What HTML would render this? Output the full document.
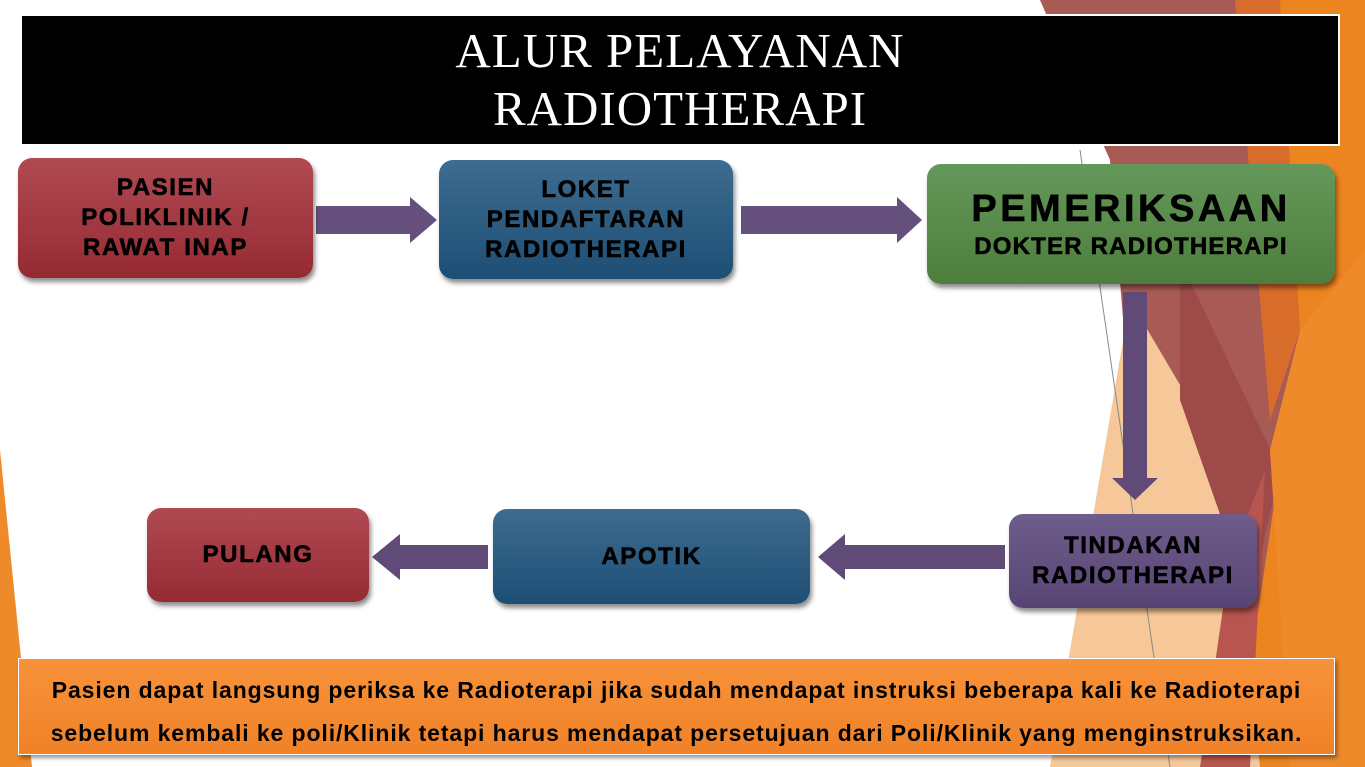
<!DOCTYPE html>
<html><head><meta charset="utf-8"><style>
body{margin:0;width:1365px;height:767px;overflow:hidden;position:relative;background:#fff;font-family:"Liberation Sans",Arial,sans-serif}
.b{position:absolute;border-radius:14px;display:flex;align-items:center;justify-content:center;text-align:center;font-weight:bold;color:#000;box-shadow:2px 4px 5px rgba(0,0,0,.45);font-size:24px;line-height:30px;letter-spacing:1.6px;-webkit-text-stroke:0.6px #000}
.red{background:linear-gradient(#b04a52,#962a33)}
.blue{background:linear-gradient(#3e6c90,#1d4e74)}
.green{background:linear-gradient(#64985a,#4e7e3d)}
.pur{background:linear-gradient(#6e5d8c,#574474)}
</style></head><body>
<svg width="1365" height="767" style="position:absolute;left:0;top:0">
<polygon points="1230,0 1365,0 1365,767 1170,767" fill="#ec8420"/>
<polygon points="1040,0 1235,0 1300,330 1235,767 1160,767 1110,160" fill="#a85a55"/>
<polygon points="1235,0 1280,0 1300,330 1270,420" fill="#d86c2a"/>
<polygon points="1130,300 1230,470 1260,767 1050,767" fill="#f6c899"/>
<polygon points="1180,260 1280,470 1250,600 1180,400" fill="#9d4a48"/>
<polygon points="1230,560 1265,470 1250,767 1200,767" fill="#b8554e"/>
<polygon points="1300,330 1365,250 1365,767 1290,767 1270,450" fill="#ee8a2a"/>
<polygon points="0,450 32,767 0,767" fill="#ee8a2a"/>
<line x1="1080" y1="150" x2="1170" y2="767" stroke="#888" stroke-width="1"/>
<polygon points="316,206 410,206 410,197 437,220 410,243 410,234 316,234" fill="#644f7d"/>
<polygon points="741,206 897,206 897,197 922,220 897,243 897,234 741,234" fill="#644f7d"/>
<polygon points="1123,292 1147,292 1147,478 1158,478 1135,500 1112,478 1123,478" fill="#604a78"/>
<polygon points="1005,545 845,545 845,534 818,557 845,580 845,569 1005,569" fill="#604a78"/>
<polygon points="488,545 400,545 400,534 372,557 400,580 400,569 488,569" fill="#604a78"/>
</svg>
<div style="position:absolute;left:20px;top:14px;width:1316px;background:#000;border:2px solid #fff;color:#fff;font-family:'Liberation Serif',serif;font-size:49px;letter-spacing:1px;line-height:58px;text-align:center;padding-top:6px;height:122px">ALUR PELAYANAN<br>RADIOTHERAPI</div>
<div class="b red" style="left:18px;top:158px;width:295px;height:120px">PASIEN<br>POLIKLINIK /<br>RAWAT INAP</div>
<div class="b blue" style="left:439px;top:160px;width:294px;height:119px">LOKET<br>PENDAFTARAN<br>RADIOTHERAPI</div>
<div class="b green" style="left:927px;top:164px;width:408px;height:120px;flex-direction:column"><span style="font-size:38px;line-height:46px;letter-spacing:3.5px">PEMERIKSAAN</span><span style="font-size:24px;letter-spacing:1.2px">DOKTER RADIOTHERAPI</span></div>
<div class="b pur" style="left:1009px;top:514px;width:248px;height:94px">TINDAKAN<br>RADIOTHERAPI</div>
<div class="b blue" style="left:493px;top:509px;width:317px;height:95px">APOTIK</div>
<div class="b red" style="left:147px;top:508px;width:222px;height:94px">PULANG</div>
<div style="position:absolute;left:18px;top:658px;width:1317px;height:97px;background:linear-gradient(#f7923a,#f08228);border:1px solid #fff;box-shadow:2px 3px 4px rgba(0,0,0,.4);text-align:center;font-weight:bold;font-size:23px;letter-spacing:0.9px;line-height:43px;padding-top:10px;box-sizing:border-box;white-space:nowrap">Pasien dapat langsung periksa ke Radioterapi jika sudah mendapat instruksi beberapa kali ke Radioterapi<br>sebelum kembali ke poli/Klinik tetapi harus mendapat persetujuan dari Poli/Klinik yang menginstruksikan.</div>
</body></html>
